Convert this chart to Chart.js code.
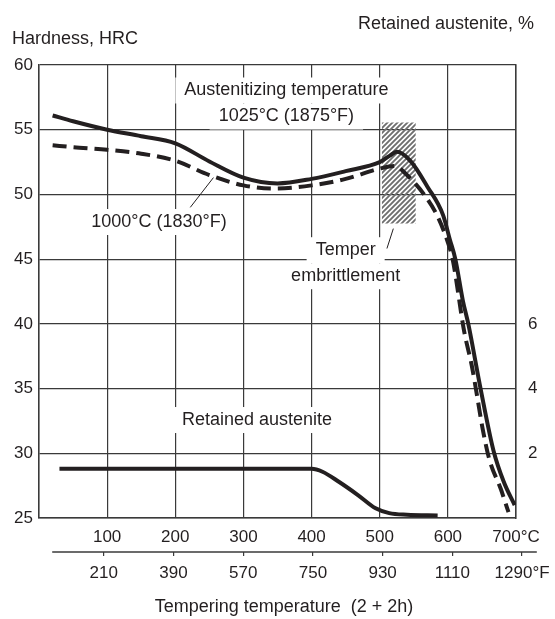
<!DOCTYPE html>
<html>
<head>
<meta charset="utf-8">
<script src="https://cdn.jsdelivr.net/npm/chart.js@4.4.1/dist/chart.umd.min.js"></script>
<style>
  html, body { margin: 0; padding: 0; background: #fff; }
  canvas { display: block; }
</style>
</head>
<body>
<canvas id="chart" width="555" height="619"></canvas>
<script>
// Hardness after tempering, austenitized at 1025°C (solid)
const solidTemp = [20, 50, 100, 150, 200, 250, 300, 350, 400, 450, 500, 515, 525, 545, 570, 593, 603, 611, 622, 630, 648, 667, 682, 698];
const solidHrc  = [56.1, 55.65, 55.0, 54.5, 53.95, 52.55, 51.3, 50.85, 51.2, 51.8, 52.5, 53.0, 53.3, 52.6, 50.6, 48.4, 46.5, 45.0, 41.8, 40.0, 35.0, 30.2, 27.8, 26.0];

// Hardness after tempering, austenitized at 1000°C (dashed)
const dashTemp = [20, 50, 100, 150, 200, 250, 300, 345, 400, 450, 500, 522, 540, 565, 585, 600, 607, 624, 635, 643, 651, 661, 678, 683, 689];
const dashHrc  = [53.8, 53.65, 53.45, 53.15, 52.6, 51.5, 50.7, 50.45, 50.7, 51.2, 52.0, 52.2, 51.5, 50.0, 48.3, 46.3, 45.0, 39.4, 36.8, 34.4, 31.9, 29.5, 27.2, 26.4, 25.45];

// Retained austenite, % (right axis)
const raTemp = [30, 400, 416, 440, 468, 494, 514, 540, 585];
const raPct  = [1.52, 1.52, 1.43, 1.12, 0.71, 0.30, 0.15, 0.10, 0.08];

// temper embrittlement band
const hatchTemp = [503, 553];
const hatchTop = 55.55;
const hatchBottom = 47.75;

// leader lines from the notes to their curves
const leader1000Temp = [222, 256];
const leader1000Hrc  = [49.0, 51.3];
const leaderTemperTemp = [520, 510.6];
const leaderTemperHrc  = [47.36, 45.82];

const hrcTicks = [25, 30, 35, 40, 45, 50, 55, 60];
const celsiusTicks = [100, 200, 300, 400, 500, 600, 700];
const fahrenheitTicks = [210, 390, 570, 750, 930, 1110, 1290];
const raTicks = [2, 4, 6];

const noteLabels = [
  { lines: ['Austenitizing temperature', '1025°C (1875°F)'], t: 363, hrc: 58.03 },
  { lines: ['1000°C (1830°F)'], t: 176, hrc: 47.87 },
  { lines: ['Temper', 'embrittlement'], t: 450, hrc: 45.69 },
  { lines: ['Retained austenite'], t: 320, hrc: 32.57 },
];

const FONT_FAMILY = '"Liberation Sans", Arial, sans-serif';
const INK = '#231f20';
const GRID = '#3a3a3a';
const LINE_GAP = 26;
const BOX_PAD_X = 9;

const pts = (xs, ys) => xs.map((x, i) => ({ x, y: ys[i] }));

function makeHatch(ctx) {
  const tile = document.createElement('canvas');
  tile.width = 5; tile.height = 5;
  const g = tile.getContext('2d');
  g.strokeStyle = '#6f6f6f';
  g.lineWidth = 1.9;
  g.beginPath();
  g.moveTo(-1, 6); g.lineTo(6, -1);
  g.moveTo(-1, 1); g.lineTo(1, -1);
  g.moveTo(4, 6); g.lineTo(6, 4);
  g.stroke();
  return ctx.createPattern(tile, 'repeat');
}

const notesPlugin = {
  id: 'notes',
  beforeDatasetsDraw(chart) {
    // white label backgrounds that break the grid lines
    const ctx = chart.ctx;
    const { x, y } = chart.scales;
    ctx.save();
    ctx.font = `18px ${FONT_FAMILY}`;
    ctx.fillStyle = '#fff';
    for (const note of noteLabels) {
      const cx = x.getPixelForValue(note.t);
      const cy = y.getPixelForValue(note.hrc);
      note.lines.forEach((line, i) => {
        const w = ctx.measureText(line).width + 2 * BOX_PAD_X;
        ctx.fillRect(cx - w / 2, cy + i * LINE_GAP - LINE_GAP / 2, w, LINE_GAP);
      });
    }
    ctx.restore();
  },
  afterDatasetsDraw(chart) {
    const ctx = chart.ctx;
    const { x, y } = chart.scales;
    ctx.save();
    ctx.font = `18px ${FONT_FAMILY}`;
    ctx.fillStyle = INK;
    ctx.textAlign = 'center';
    ctx.textBaseline = 'middle';
    for (const note of noteLabels) {
      const cx = x.getPixelForValue(note.t);
      const cy = y.getPixelForValue(note.hrc);
      note.lines.forEach((line, i) => ctx.fillText(line, cx, cy + i * LINE_GAP));
    }
    ctx.restore();
  },
  afterDraw(chart) {
    const ctx = chart.ctx;
    const x2 = chart.scales.x2;
    ctx.save();
    // Fahrenheit axis line runs a little past the plot on both sides
    ctx.strokeStyle = GRID;
    ctx.lineWidth = 1.3;
    ctx.beginPath();
    ctx.moveTo(x2.getPixelForValue(77), x2.top);
    ctx.lineTo(x2.getPixelForValue(1328), x2.top);
    ctx.stroke();

    ctx.font = `18px ${FONT_FAMILY}`;
    ctx.fillStyle = INK;
    ctx.textBaseline = 'middle';
    ctx.textAlign = 'left';
    ctx.fillText('Hardness, HRC', 12, 39);
    ctx.textAlign = 'right';
    ctx.fillText('Retained austenite, %', 534, 24);
    ctx.textAlign = 'center';
    ctx.fillText('Tempering temperature  (2 + 2h)', 284, 607);
    ctx.restore();
  },
};

const canvas = document.getElementById('chart');
const hatch = makeHatch(canvas.getContext('2d'));
const tickFont = { family: FONT_FAMILY, size: 17 };

const curve = {
  borderColor: INK,
  borderWidth: 4,
  pointRadius: 0,
  fill: false,
  cubicInterpolationMode: 'monotone',
  borderCapStyle: 'butt',
};

new Chart(canvas, {
  type: 'line',
  data: {
    datasets: [
      { ...curve, label: '1025°C', data: pts(solidTemp, solidHrc) },
      { ...curve, label: '1000°C', data: pts(dashTemp, dashHrc), borderDash: [14, 7] },
      { ...curve, label: 'Retained austenite', data: pts(raTemp, raPct), yAxisID: 'y2' },
      { label: 'leader 1000', data: pts(leader1000Temp, leader1000Hrc), borderColor: INK, borderWidth: 1, pointRadius: 0, fill: false },
      { label: 'leader temper', data: pts(leaderTemperTemp, leaderTemperHrc), borderColor: INK, borderWidth: 1, pointRadius: 0, fill: false },
      {
        label: 'Temper embrittlement',
        data: pts(hatchTemp, hatchTemp.map(() => hatchTop)),
        borderWidth: 0,
        pointRadius: 0,
        backgroundColor: hatch,
        fill: { value: hatchBottom },
      },
    ],
  },
  options: {
    responsive: false,
    animation: false,
    events: [],
    layout: { padding: { top: 65, left: 0, right: 0, bottom: 0 } },
    plugins: { legend: { display: false }, tooltip: { enabled: false } },
    scales: {
      x: {
        type: 'linear',
        position: 'bottom',
        weight: 0,
        min: 0,
        max: 700,
        afterBuildTicks: s => { s.ticks = [0, ...celsiusTicks].map(v => ({ value: v })); },
        afterFit: s => { s.height = 34; s.paddingLeft = 0; s.paddingRight = 0; },
        ticks: {
          autoSkip: false, maxRotation: 0, padding: 9, color: INK, font: tickFont,
          callback: v => v === 0 ? '' : v === 700 ? '700°C' : String(v),
        },
        grid: { color: GRID, lineWidth: 1.2, drawTicks: false },
        border: { color: GRID, width: 1.5 },
      },
      x2: {
        type: 'linear',
        position: 'bottom',
        weight: 1,
        min: 42.9,
        max: 1274.3,
        afterBuildTicks: s => { s.ticks = fahrenheitTicks.map(v => ({ value: v })); },
        afterFit: s => { s.height = 67; s.paddingLeft = 0; s.paddingRight = 0; },
        ticks: {
          autoSkip: false, maxRotation: 0, padding: 7, color: INK, font: tickFont,
          callback: v => v === 1290 ? '1290°F' : String(v),
        },
        grid: { drawOnChartArea: false, drawTicks: true, tickLength: 4, color: GRID, lineWidth: 1.2 },
        border: { display: false },
      },
      y: {
        type: 'linear',
        position: 'left',
        min: 25,
        max: 60,
        afterBuildTicks: s => { s.ticks = hrcTicks.map(v => ({ value: v })); },
        afterFit: s => { s.width = 39; },
        ticks: { padding: 6, color: INK, font: tickFont },
        grid: { color: GRID, lineWidth: 1.2, drawTicks: false },
        border: { color: GRID, width: 1.5 },
      },
      y2: {
        type: 'linear',
        position: 'right',
        min: 0,
        max: 14,
        afterBuildTicks: s => { s.ticks = raTicks.map(v => ({ value: v })); },
        afterFit: s => { s.width = 39; },
        ticks: { padding: 12, color: INK, font: tickFont },
        grid: { drawOnChartArea: false, drawTicks: false },
        border: { color: GRID, width: 1.5 },
      },
    },
  },
  plugins: [notesPlugin],
});
</script>
</body>
</html>
